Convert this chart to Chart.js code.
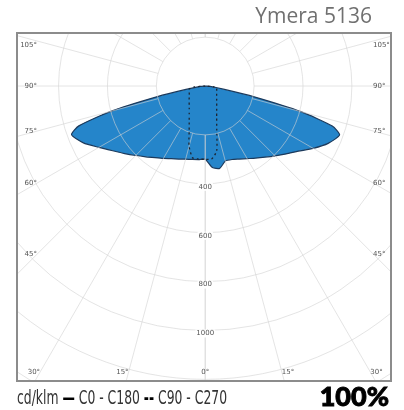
<!DOCTYPE html>
<html>
<head>
<meta charset="utf-8">
<script src="https://cdn.jsdelivr.net/npm/chart.js@4.4.0/dist/chart.umd.min.js"></script>
<style>
  html, body { margin: 0; padding: 0; background: #fff; }
  #wrap { position: relative; width: 404px; height: 410px; overflow: hidden; }
  #myChart { position: absolute; left: 0; top: 0; }
  #title { position: absolute; right: 32px; top: 1px; font: 21px "Open Sans"; color: #707070; white-space: nowrap; }
  #foot { position: absolute; left: 17px; top: 386px; font: 19px "Liberation Sans Narrow", "DejaVu Sans Condensed", sans-serif;
          color: #333; white-space: nowrap; transform-origin: 0 0; line-height: 22px; }
  #foot b { color: #000; font-weight: 900; }
  #pct { position: absolute; right: 15px; top: 380px; font: 900 27px Lato, Roboto, sans-serif; color: #000; line-height: 32px;
         -webkit-text-stroke: 0.9px #000; }
</style>
</head>
<body>
<div id="wrap">
  <canvas id="myChart" width="404" height="410"></canvas>
  <div id="title">Ymera 5136</div>
  <div id="foot">cd/klm <b>—</b> C0 - C180 <b>--</b> C90 - C270</div>
  <div id="pct">100%</div>
</div>
<script>
// gamma angles (deg from nadir) and intensities in cd/klm
const gamma = [0, 5, 10, 15, 20, 25, 30, 35, 40, 45, 50, 55, 60, 65, 70, 72.5, 75, 77.5, 80, 85, 90];
const c0    = [300, 335, 342, 318, 320, 330, 343, 360, 380, 404, 432, 465, 510, 555, 585, 545, 405, 205, 80, 20, 0];
const c180  = [300, 302, 305, 310, 318, 328, 342, 358, 378, 402, 430, 462, 502, 550, 582, 542, 400, 200, 80, 20, 0];
const c90   = [300, 300, 298, 255, 192, 155, 131, 114, 102, 93, 86, 80, 76, 72, 70, 69, 68, 67, 66, 45, 0];
const c270  = [300, 300, 270, 182, 137, 111, 94, 82, 73, 66, 61, 57, 54, 52, 50, 49, 49, 48, 48, 35, 0];

const rings = [200, 400, 600, 800, 1000, 1200, 1400, 1600];
const ringLabels = ["400", "600", "800", "1000"];
const angleTicks = [0, 15, 30, 45, 60, 75, 90, 105];

// left half runs 90 -> 0, right half 0 -> 90
function halves(left, right) {
  const pts = [];
  for (let i = gamma.length - 1; i >= 0; i--) {
    const a = gamma[i] * Math.PI / 180;
    pts.push({ x: -left[i] * Math.sin(a), y: -left[i] * Math.cos(a) });
  }
  for (let i = 1; i < gamma.length; i++) {
    const a = gamma[i] * Math.PI / 180;
    pts.push({ x: right[i] * Math.sin(a), y: -right[i] * Math.cos(a) });
  }
  return pts;
}

const polarGrid = {
  id: "polarGrid",
  afterDatasetDraw(chart, args) {
    if (args.index !== 0) return;
    const { ctx, chartArea: a, scales: { x, y } } = chart;
    const cx = x.getPixelForValue(0), cy = y.getPixelForValue(0);
    const k = x.getPixelForValue(100) - cx;
    ctx.save();
    ctx.beginPath();
    ctx.rect(a.left, a.top, a.right - a.left, a.bottom - a.top);
    ctx.clip();
    ctx.strokeStyle = "rgba(210,210,210,0.6)";
    ctx.lineWidth = 1;
    rings.forEach(v => {
      ctx.beginPath();
      ctx.arc(cx, cy, v * k / 100, 0, Math.PI * 2);
      ctx.stroke();
    });
    const r0 = rings[0] * k / 100, r1 = 3000 * k / 100;
    for (let g = 0; g <= 180; g += 15) {
      const s = Math.sin(g * Math.PI / 180), c = Math.cos(g * Math.PI / 180);
      [-1, 1].forEach(side => {
        ctx.beginPath();
        ctx.moveTo(cx + side * r0 * s, cy + r0 * c);
        ctx.lineTo(cx + side * r1 * s, cy + r1 * c);
        ctx.stroke();
      });
    }
    ctx.restore();
  },
  afterDraw(chart) {
    const { ctx, chartArea: a, scales: { x, y } } = chart;
    const cx = x.getPixelForValue(0), cy = y.getPixelForValue(0);
    const k = x.getPixelForValue(100) - cx;
    ctx.save();
    ctx.font = "7px 'DejaVu Sans'";
    ctx.fillStyle = "#555";
    ctx.textBaseline = "middle";
    // ring labels on the 0 line
    ringLabels.forEach(t => {
      const py = cy + Number(t) * k / 100 + 3;
      const w = ctx.measureText(t).width;
      ctx.fillStyle = "#fff";
      ctx.fillRect(cx - w / 2 - 1, py - 4, w + 2, 8);
      ctx.fillStyle = "#555";
      ctx.textAlign = "center";
      ctx.fillText(t, cx, py);
    });
    // angle labels where each ray meets an inset box
    const inL = a.left + 20, inR = a.right - 18, inT = a.top + 12, inB = a.bottom - 9;
    angleTicks.forEach(g => {
      const s = Math.sin(g * Math.PI / 180), c = Math.cos(g * Math.PI / 180);
      [-1, 1].forEach(side => {
        if (g === 0 && side === 1) return;
        let px, py;
        if (s < 1e-6) { px = cx; py = inB; }
        else {
          const t = (side < 0 ? cx - inL : inR - cx) / s;
          px = cx + side * t * s; py = cy + t * c;
          if (py > inB) { const t2 = (inB - cy) / c; px = cx + side * t2 * s; py = inB; }
          if (py < inT) py = inT;
        }
        ctx.textAlign = g === 0 ? "center" : (side < 0 ? "right" : "left");
        ctx.fillText(g + "°", px, py);
      });
    });
    // frame
    ctx.strokeStyle = "#8c8c8c";
    ctx.lineWidth = 2;
    ctx.strokeRect(a.left, a.top, a.right - a.left, a.bottom - a.top);
    ctx.restore();
  }
};

const ctx = document.getElementById("myChart");

new Chart(ctx, {
  type: "scatter",
  data: {
    datasets: [
      {
        label: "C0 - C180",
        data: halves(c180, c0),
        showLine: true,
        fill: "shape",
        backgroundColor: "#2585ca",
        borderColor: "#1c3a5c",
        borderWidth: 1.2,
        pointRadius: 0,
        tension: 0.2,
        order: 1,
      },
      {
        label: "C90 - C270",
        data: halves(c90, c270),
        showLine: true,
        fill: false,
        borderColor: "#1d2430",
        borderWidth: 1.3,
        borderDash: [2, 3],
        pointRadius: 0,
        tension: 0.2,
        order: 0,
      },
    ],
  },
  options: {
    responsive: false,
    animation: false,
    layout: { padding: { left: 17, right: 13, top: 33, bottom: 29 } },
    scales: {
      x: { type: "linear", min: -770, max: 760, display: false },
      y: { type: "linear", min: -1207, max: 217, display: false },
    },
    plugins: { legend: { display: false }, tooltip: { enabled: false } },
  },
  plugins: [polarGrid],
});

// squeeze footer text to the reference width
const foot = document.getElementById("foot");
foot.style.transform = "scaleX(" + (210 / foot.offsetWidth) + ")";
</script>
</body>
</html>
